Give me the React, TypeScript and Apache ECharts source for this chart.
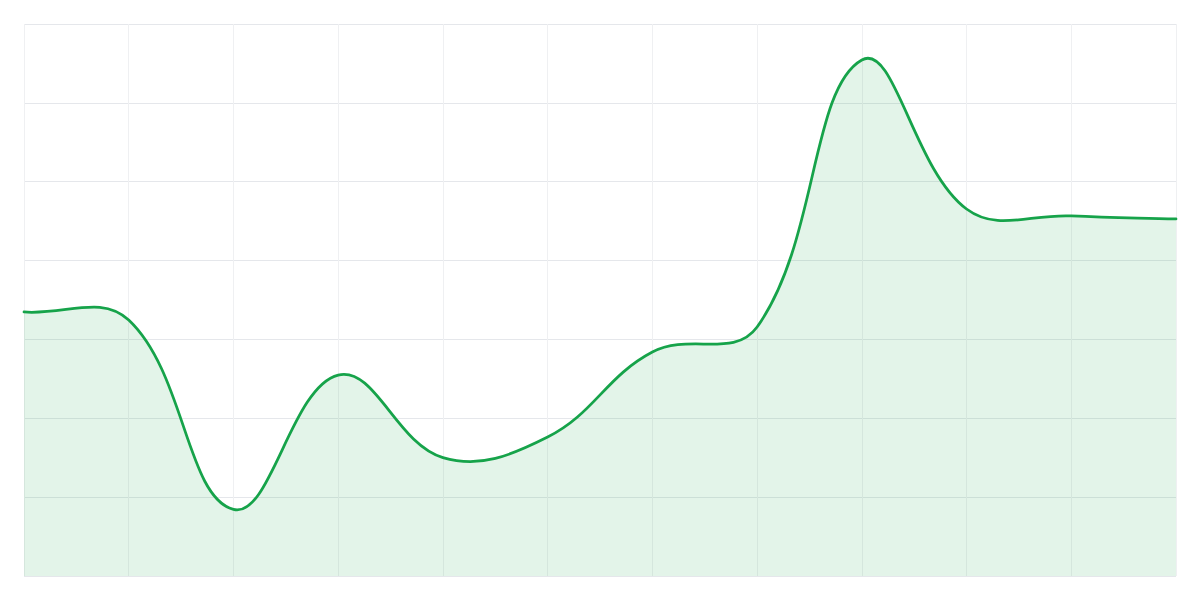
import React, { useEffect, useRef } from "react";
import * as echarts from "echarts";

const categories = ["P1", "P2", "P3", "P4", "P5", "P6", "P7", "P8", "P9", "P10", "P11", "P12"];
const seriesValues = [167.4, 162.3, 42.2, 127.4, 75.1, 88.1, 142.0, 157.9, 327.2, 232.7, 228.3, 226.4];
const yMin = 0;
const yMax = 350;
const yInterval = 50;
const tension = 0.4;

type Pt = number[];

function splinePath(pts: Pt[]): string {
  const n = pts.length;
  const cps: [Pt, Pt][] = [];
  for (let i = 0; i < n; i++) {
    const cur = pts[i];
    const prev = pts[Math.max(0, i - 1)];
    const next = pts[Math.min(n - 1, i + 1)];
    const d01 = Math.hypot(cur[0] - prev[0], cur[1] - prev[1]);
    const d12 = Math.hypot(next[0] - cur[0], next[1] - cur[1]);
    let s01 = d01 / (d01 + d12);
    let s12 = d12 / (d01 + d12);
    if (isNaN(s01)) s01 = 0;
    if (isNaN(s12)) s12 = 0;
    const fa = tension * s01;
    const fb = tension * s12;
    const vx = next[0] - prev[0];
    const vy = next[1] - prev[1];
    cps.push([
      [cur[0] - fa * vx, cur[1] - fa * vy],
      [cur[0] + fb * vx, cur[1] + fb * vy],
    ]);
  }
  let d = `M${pts[0][0]},${pts[0][1]}`;
  for (let i = 0; i < n - 1; i++) {
    const c1 = cps[i][1];
    const c2 = cps[i + 1][0];
    const p = pts[i + 1];
    d += ` C${c1[0]},${c1[1]} ${c2[0]},${c2[1]} ${p[0]},${p[1]}`;
  }
  return d;
}

export default function App() {
  const ref = useRef<HTMLDivElement>(null);

  useEffect(() => {
    document.body.style.margin = "0";
    if (!ref.current) return;
    const chart = echarts.init(ref.current, undefined, { renderer: "svg" });
    chart.setOption({
      animation: false,
      backgroundColor: "#ffffff",
      grid: { left: 24, right: 24, top: 24, bottom: 24, containLabel: false },
      xAxis: {
        type: "category",
        data: categories,
        boundaryGap: false,
        axisLine: { show: false },
        axisTick: { show: false },
        axisLabel: { show: false },
        splitLine: { show: true, lineStyle: { color: "#eff0f2", width: 1 } },
      },
      yAxis: {
        type: "value",
        min: yMin,
        max: yMax,
        interval: yInterval,
        axisLine: { show: false },
        axisTick: { show: false },
        axisLabel: { show: false },
        splitLine: { show: true, lineStyle: { color: "#e5e7eb", width: 1 } },
      },
      series: [
        {
          type: "custom",
          data: seriesValues.map((v, i) => [i, v]),
          encode: { x: 0, y: 1 },
          clip: false,
          renderItem: (params: any, api: any) => {
            if (params.dataIndex !== 0) return null;
            const pts: Pt[] = seriesValues.map((v, i) => api.coord([i, v]));
            const line = splinePath(pts);
            const base0 = api.coord([0, yMin]);
            const baseN = api.coord([seriesValues.length - 1, yMin]);
            const area = `${line} L${baseN[0]},${baseN[1]} L${base0[0]},${base0[1]} Z`;
            return {
              type: "group",
              children: [
                {
                  type: "path",
                  shape: { pathData: area },
                  style: { fill: "rgba(22,163,74,0.12)", stroke: "none" },
                },
                {
                  type: "path",
                  shape: { pathData: line },
                  style: {
                    fill: "none",
                    stroke: "#16a34a",
                    lineWidth: 2.75,
                    lineJoin: "round",
                    lineCap: "round",
                  },
                },
              ],
            };
          },
        },
      ],
    });
    return () => chart.dispose();
  }, []);

  return <div ref={ref} style={{ width: 1200, height: 600 }} />;
}
